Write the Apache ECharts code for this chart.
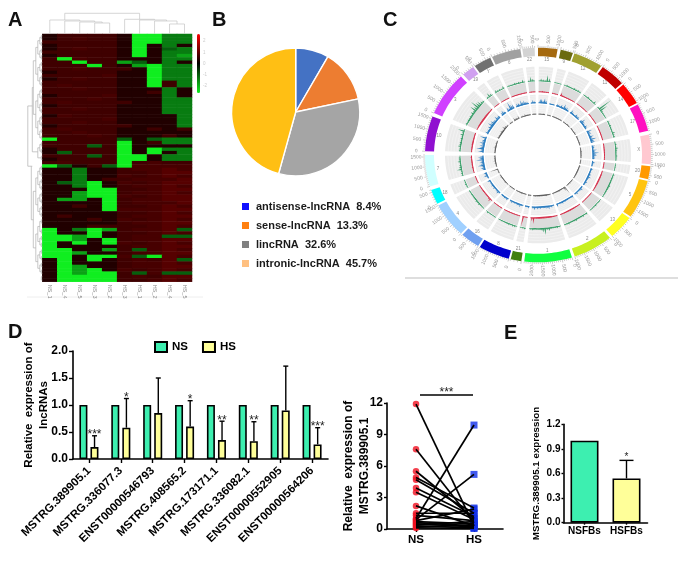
<!DOCTYPE html>
<html><head><meta charset="utf-8">
<style>html,body{margin:0;padding:0;background:#fff}#c{width:687px;height:565px}</style>
<script src="https://cdn.jsdelivr.net/npm/echarts@6/dist/echarts.min.js"></script>
</head><body><div id="c"></div>
<script>
// ---------- Panel A ----------
const heatColumns = ['NS_1','NS_4','NS_5','NS_3','NS_2','HS_3','HS_1','HS_2','HS_4','HS_5'];
const heatRows = [
"abbbbaGGDD","abcbbaGGDD","bbbbbaGGDD","abbbbaGaDa","abcbbaGatD","bbbbbaGaDD","abbbbaGaDM","bGcbbaaaDD",
"bbGbbMtaDa","bbbGbaMGDD","bbcbbbaGDD","abbbbaaGDD","bbbbcaaGDD","abcbbaaGDD","bbbbbaaGbD","bcbbbaaGbD",
"bbcbbaaaDa","bbbbbaabDa","abbbcaaaDa","bbbcbaaaDD","bcbbbbaaDD","abbbbaaaDD","bbcbbaaaDD","bbbbbaaaDD",
"acbbbaaaaD","bbbbcaaaaD","bbcbbaaaaD","abbbbbaaaD","bcbbbaabab","bbcbbaaaaa","bbbcbaaaba","GbbbbtatDD",
"bbbbbGabDD","bbbtbGaaaa","abbbbGaGDD","atbbbGaGaD","bbbtbGGaDD","abbbbGGaDD","bcbbbGbcbb","GtabtGcccc",
"aaDaabccdc","aaDaabbcdd","aaDaacbcdc","aaDabbcccd","atDGacbcdd","aaDGabccdc","aaaGGbbcdd","aaMGGbccdc",
"aaMGGcbcdd","aMMaGbccdd","aaaaGbcccd","aabaGbbcdc","aaaaGcccdd","aaaaabbcdc","abaaabccdd","aaabacbcdc",
"aaaaabccdd","aaabbbbcdc","GaDGMbccdt","GaaGabbcdc","GGMGabcctt","GGMaGbccdd","GaGaGcbcdc","Gaaaabccdd",
"GGaaMbtcdc","GGMaabccdd","GGaGGctGdc","aGaGabcbdt","aGaaabccdc","aGMaabccdd","aGMGacbcdc","aGMGGbtctt",
"aGGGGbcbdd","aGGGGbbcdc"];
const heatLevels = {a:0.32,b:0.62,c:0.7,d:0.84,G:-2.5,M:-1.7,D:-1.3,t:-1};
const colorbarTicks = ['2','1','0','-1','-2'];
const topBrackets = [[1.5,6.5,20.7,14,14.7],[0.5,2.5,14,0,13],[1.5,3.5,13,0,12],[2.5,4,12,0,11],[3.5,4.5,11,0,0],
  [5.5,7.5,14.7,0,14],[6.5,8.3,14,0,13],[7.5,9,13,0,10],[8.5,9.5,10,0,0]];
const rowBrackets = [
 [1,0,1,0,0],[1,2,3,0,0],[1,4,5,0,0],[1,6,7,0,0],[1,8,9,0,0],[1,10,11,0,0],[1,12,13,0,0],[1,14,15,0,0],[1,16,17,0,0],[1,18,19,0,0],
 [1,20,21,0,0],[1,22,23,0,0],[1,24,25,0,0],[1,26,27,0,0],[1,28,29,0,0],[1,30,31,0,0],[1,32,33,0,0],[1,34,35,0,0],[1,36,37,0,0],
 [1,39,40,0,0],[1,41,42,0,0],[1,43,44,0,0],[1,45,46,0,0],[1,47,48,0,0],[1,49,50,0,0],[1,51,52,0,0],[1,53,54,0,0],[1,55,56,0,0],
 [1,58,59,0,0],[1,60,61,0,0],[1,62,63,0,0],[1,64,65,0,0],[1,66,67,0,0],[1,68,69,0,0],[1,70,71,0,0],[1,72,73,0,0],
 [2.5,.5,2.5,1,1],[2.5,4.5,6.5,1,1],[2.5,8.5,10.5,1,1],[2.5,12.5,14.5,1,1],[2.5,16.5,18.5,1,1],[2.5,20.5,22.5,1,1],[2.5,24.5,26.5,1,1],[2.5,28.5,30.5,1,1],[2.5,32.5,34.5,1,1],
 [2.5,39.5,41.5,1,1],[2.5,43.5,45.5,1,1],[2.5,47.5,49.5,1,1],[2.5,51.5,53.5,1,1],[2.5,55.5,58.5,1,1],[2.5,60.5,62.5,1,1],[2.5,64.5,66.5,1,1],[2.5,68.5,70.5,1,1],
 [4.5,1.5,5.5,2.5,2.5],[4.5,9.5,13.5,2.5,2.5],[4.5,17.5,21.5,2.5,2.5],[4.5,25.5,29.5,2.5,2.5],[4.5,33.5,36.5,2.5,1],
 [4.5,40.5,44.5,2.5,2.5],[4.5,48.5,52.5,2.5,2.5],[4.5,57,61.5,2.5,2.5],[4.5,65.5,69.5,2.5,2.5],
 [6.5,3.5,11.5,4.5,4.5],[6.5,19.5,27.5,4.5,4.5],[6.5,42.5,50.5,4.5,4.5],[6.5,59.25,67.5,4.5,4.5],
 [9,7.5,23.5,6.5,6.5],[9,46.5,63.4,6.5,6.5],[10,15.5,34.7,9,4.5],[11,39,55,10,9],[14.5,21,39,10,11]];

// ---------- Panel B ----------
const pieNames = ['antisense-lncRNA  8.4%','sense-lncRNA  13.3%','lincRNA  32.6%','intronic-lncRNA  45.7%'];
const pieShares = [8.4,13.3,32.6,45.7];
const pieColors = ['#4472C4','#ED7D31','#A5A5A5','#FFBF14'];
const pieKeyColors = ['#1010FF','#FF8010','#808080','#FFC080'];

// ---------- Panel C ----------
const chromNames  = ['22','15','9','12','11','14','17','X','20','5','13','2','1','21','8','16','4','18','7','10','3','19','Y','6'];
const chromStart  = [352,0,11.6,18.8,35,49,62,79,96,104,126,140.5,162.5,188.5,195,212,223,243,253,272,293,318.5,326,336];
const chromEnd    = [358.3,10,18,34,48,61,77,95,103,125,139,161,187,194,211,222,242,251,270,291,317,325,335,351];
const chromLength = [600,1000,500,1300,1300,1100,1400,1500,700,1900,1000,2000,2400,300,1500,800,1500,600,1600,1600,2000,500,700,1000];
const chromColors = ['#D3D3D3','#A56A10','#6B6B10','#A0A030','#C00000','#FF0000','#FF10C0','#FFC8D0','#FF9900','#FFC410','#FFFF20','#C8F020',
  '#10FF40','#408010','#0000CC','#70A0F0','#A0D0FF','#00FFFF','#D0FFFF','#9010D0','#D040FF','#D0A0F0','#707070','#A0A0A0'];
const greenTrack = [5,3,6,4,1,0,1,3,2,3, 3,2,2,3,2,4,3,9,3,2, 2,3,3,2,4,3,2,3,4,2, 3,2,3,2,2,3,2,2,3,2, 2,2,3,2,3,2,2,3,3,2, 3,2,3,2,3,3,2,4,6,3,
  2,3,2,3,2,4,3,3,2,2, 3,2,2,3,2,2,3,3,2,2, 2,3,3,2,4,3,5,3,4,3, 5,3,4,3,3,4,6,4,3,3, 3,4,6,7,5,3,4,5,4,4, 3,4,3,2,3,3,4,3,5,6];
const redTrack = [2,3,1,0,1,1,7,3,1,1, 1,1,2,1,2,1,1,2,1,1, 2,1,1,2,1,2,2,1,1,2, 1,2,1,2,1,1,2,1,1,1, 1,1,2,1,1,1,2,1,1,1, 1,1,1,2,1,1,2,1,1,1,
  1,7,1,1,9,1,1,1,2,1, 1,2,1,1,1,5,1,1,2,1, 2,1,1,2,1,2,3,2,2,3, 3,2,2,3,2,1,2,2,1,2, 2,1,2,1,2,3,2,2,1,2, 2,1,2,2,1,1,2,1,2,3];
const blueTrack = [8,5,6,2,1,1,5,3,4,6, 4,3,5,2,4,3,5,6,3,4, 5,6,4,5,7,5,6,3,5,7, 5,3,6,2,4,3,2,3,4,2, 3,2,3,4,2,3,2,3,1,2, 2,3,2,4,2,3,4,3,2,3,
  3,4,2,3,2,3,4,3,2,3, 4,3,3,2,3,4,2,3,3,2, 4,3,5,4,6,5,7,5,8,6, 9,6,8,5,6,4,7,5,4,3, 4,6,5,3,5,4,6,5,7,5, 9,5,7,4,6,5,3,2,4,9];
const blackTrack = [3,2,3,1,1,2,3,2,2,2, 2,3,2,2,3,2,4,3,2,3, 2,3,2,2,3,2,3,2,3,2, 2,2,3,2,2,3,2,2,2,2, 2,2,3,2,3,2,2,8,2,2, 3,2,2,3,2,2,3,2,2,2,
  2,3,2,2,3,2,2,3,2,2, 3,2,2,3,2,2,3,2,2,3, 2,3,2,8,3,2,3,4,3,3, 4,3,3,4,2,3,2,3,4,3, 3,4,3,5,4,3,4,3,4,5, 4,5,4,3,4,3,2,3,3,5];

// ---------- Panel D ----------
const lncNames = ['MSTRG.389905.1','MSTRG.336077.3','ENST00000546793','MSTRG.408565.2','MSTRG.173171.1','MSTRG.336082.1','ENST00000552905','ENST00000564206'];
const nsValues = [1,1,1,1,1,1,1,1];
const hsValues = [0.22,0.58,0.85,0.6,0.35,0.33,0.9,0.27];
const hsUpper  = [0.43,1.12,1.5,1.08,0.7,0.69,1.72,0.58];
const hsStars  = ['***','*','','*','**','**','','***'];

// ---------- Paired panel ----------
const pairCats = ['NS','HS'];
const pairNS = [11.9,7.6,5.5,4.9,4.7,3.9,3.5,2.2,1.5,1.0,0.9,1.3,0.8,0.7,0.6,0.5,0.4,0.3,0.2,0.1];
const pairHS = [0.3,0.6,1.0,2.0,1.5,1.2,0.9,0.3,1.5,9.9,5.2,0.8,1.9,0.5,0.3,0.2,0.7,0.1,0.4,0.05];

// ---------- Panel E ----------
const fbCats = ['NSFBs','HSFBs'];
const fbValues = [1,0.54];
const fbUpper = [null,0.76];

const FONT = 'Liberation Sans';
const BLK = '#000';
const chart = echarts.init(document.getElementById('c'), null, {renderer:'canvas'});

function bracketSeries(list, xIdx, yIdx, isTop, color){
  return {type:'custom',xAxisIndex:xIdx,yAxisIndex:yIdx,silent:true,data:list,
    encode:{x:0,y:1},
    renderItem(p,api){
      const s={stroke:color,lineWidth:.7,fill:null};
      const P=(a,b)=>api.coord(isTop?[a,b]:[a,b+.5]);
      let pts;
      if(isTop){const[xa,xb,h,ha,hb]=list[p.dataIndex];pts=[P(xa,ha),P(xa,h),P(xb,h),P(xb,hb)];}
      else{const[d,ra,rb,da,db]=list[p.dataIndex];pts=[P(da,ra),P(d,ra),P(d,rb),P(db,rb)];}
      return {type:'polyline',shape:{points:pts},style:s};
    }};
}

// circos helpers
const rad=d=>d*Math.PI/180;
function ptr(api,r,d){return api.coord([r*Math.sin(rad(d)),r*Math.cos(rad(d))]);}
function arc(api,r,a,b){const o=[];const n=Math.max(2,Math.ceil(Math.abs(b-a)/1.5));for(let i=0;i<=n;i++)o.push(ptr(api,r,a+(b-a)*i/n));return o;}
function trackSeries(values,r0,height,color,bg,stripe,power,halfWidth,baseWidth){
  return {type:'custom',xAxisIndex:3,yAxisIndex:3,silent:true,data:chromNames.map((n,i)=>[i,0]),encode:{x:0,y:1},
    renderItem(p,api){
      const i=p.dataIndex,s=chromStart[i]+.5,e=chromEnd[i]-.5,ch=[];
      ch.push({type:'polygon',shape:{points:arc(api,r0,s,e).concat(arc(api,r0+height,e,s))},style:{fill:bg}});
      if(stripe)for(let k=1;k<5;k++)ch.push({type:'polyline',shape:{points:arc(api,r0+height*k/5,s,e)},style:{stroke:stripe,lineWidth:.6,fill:null}});
      const top=[ptr(api,r0,s)];
      values.forEach((v,b)=>{
        [0.75,2.25].forEach((off,j)=>{
          const c=b*3+off;
          if(c>s+.5&&c<e-.5){
            const h=Math.pow(v/9,power)*height*(j?0.55:1);
            top.push(ptr(api,r0,c-halfWidth),ptr(api,r0+h,c),ptr(api,r0,c+halfWidth));
          }
        });
      });
      top.push(ptr(api,r0,e));
      ch.push({type:'polygon',shape:{points:top},style:{fill:color}});
      ch.push({type:'polyline',shape:{points:arc(api,r0,s,e)},style:{stroke:color,lineWidth:baseWidth,fill:null}});
      return {type:'group',children:ch};
    }};
}
const ringSeries = {type:'custom',xAxisIndex:3,yAxisIndex:3,silent:true,data:chromNames.map((n,i)=>[i,0]),encode:{x:0,y:1},
  renderItem(p,api){
    const i=p.dataIndex,s=chromStart[i],e=chromEnd[i],L=chromLength[i],Ri=104,Ro=113,ch=[];
    ch.push({type:'polygon',shape:{points:arc(api,Ri,s,e).concat(arc(api,Ro,e,s))},style:{fill:chromColors[i]}});
    for(let t=0;t<=L;t+=100){
      const d=s+(e-s)*t/L,maj=t%500===0;
      const a=ptr(api,Ro,d),b=ptr(api,Ro+(maj?3:1.8),d);
      ch.push({type:'line',shape:{x1:a[0],y1:a[1],x2:b[0],y2:b[1]},style:{stroke:'#999',lineWidth:.5}});
      if(maj){
        const q=ptr(api,Ro+9,d);
        const rot=d<180?rad(90-d):rad(270-d);
        ch.push({type:'text',x:q[0],y:q[1],rotation:rot,style:{text:String(t),fontSize:5,fontFamily:FONT,fill:'#999',align:'center',verticalAlign:'middle'}});
      }
    }
    const m=(s+e)/2,q=ptr(api,Ri-3,m);
    ch.push({type:'text',x:q[0],y:q[1],style:{text:chromNames[i],fontSize:4.5,fontFamily:FONT,fill:'#888',align:'center',verticalAlign:'middle'}});
    return {type:'group',children:ch};
  }};

function axisCommon(fontSize,margin,tick){
  return {axisLine:{show:true,onZero:false,lineStyle:{color:BLK,width:1.6}},
    axisTick:{show:true,length:tick,lineStyle:{color:BLK,width:1.4}},
    axisLabel:{color:BLK,fontWeight:'bold',fontFamily:FONT,fontSize,margin},
    splitLine:{show:false}};
}
function yTitle(name,gap,size){
  return {name,nameLocation:'middle',nameRotate:90,nameGap:gap,nameMoveOverlap:false,
    nameTextStyle:{color:BLK,fontWeight:'bold',fontFamily:FONT,fontSize:size,lineHeight:size+4}};
}
const hidden={show:false};

const heatData=[];
heatRows.forEach((row,r)=>{[...row].forEach((ch,c)=>heatData.push([c,r,heatLevels[ch]]));});

const series=[
 {type:'heatmap',xAxisIndex:0,yAxisIndex:0,data:heatData,silent:true,progressive:0},
 bracketSeries(topBrackets,1,1,true,'#C4C4C4'),
 bracketSeries(rowBrackets,2,2,false,'#B0B0B0'),
 {type:'pie',center:[295.7,112],radius:64,startAngle:90,silent:true,label:{show:false},labelLine:{show:false},
  itemStyle:{borderColor:'#fff',borderWidth:1.4},
  data:pieNames.map((n,i)=>({name:n,value:pieShares[i],itemStyle:{color:pieColors[i]}}))},
 trackSeries(greenTrack,78,15,'#3A9E6A','#EBEBEB','#F6F6F6',2,.6,.8),
 trackSeries(redTrack,66.5,10.5,'#D62F4B','#DCDCDC',null,2,.6,1),
 trackSeries(blueTrack,55,8.5,'#2F7FC1','#EBEBEB','#F6F6F6',1.2,.85,1.1),
 trackSeries(blackTrack,43,10,'#555','#EFEFEF','#F8F8F8',1.8,.6,.8),
 ringSeries,
 {name:'NS',type:'bar',xAxisIndex:4,yAxisIndex:4,data:nsValues,barWidth:8,barGap:'38%',silent:true,
  itemStyle:{color:'#3DEFB0',borderColor:BLK,borderWidth:1.6}},
 {name:'HS',type:'bar',xAxisIndex:4,yAxisIndex:4,data:hsValues,barWidth:8,silent:true,
  itemStyle:{color:'#FFFF99',borderColor:BLK,borderWidth:1.6}},
 {type:'custom',xAxisIndex:4,yAxisIndex:4,silent:true,z:5,data:hsValues.map((v,i)=>[i,v,hsUpper[i]]),encode:{x:0,y:2},
  renderItem(p,api){
    const i=p.dataIndex,a=api.coord([i,api.value(1)]),b=api.coord([i,api.value(2)]),x=a[0]+5.6,st={stroke:BLK,lineWidth:1.4};
    const ch=[{type:'line',shape:{x1:x,y1:a[1],x2:x,y2:b[1]},style:st},{type:'line',shape:{x1:x-2.5,y1:b[1],x2:x+2.5,y2:b[1]},style:st}];
    if(hsStars[i])ch.push({type:'text',x,y:b[1]-1,style:{text:hsStars[i],fontFamily:FONT,fontSize:12,fill:'#222',align:'center',verticalAlign:'middle'}});
    return {type:'group',children:ch};
  }},
 {type:'scatter',xAxisIndex:5,yAxisIndex:5,symbol:'circle',symbolSize:6.5,silent:true,z:2,itemStyle:{color:'#F01020'},data:pairNS.map(v=>['NS',v])},
 {type:'scatter',xAxisIndex:5,yAxisIndex:5,symbol:'rect',symbolSize:7,silent:true,z:2,itemStyle:{color:'#1030E8'},data:pairHS.map(v=>['HS',v])},
 ...pairNS.map((v,i)=>({type:'line',xAxisIndex:5,yAxisIndex:5,silent:true,z:3,symbol:'none',lineStyle:{color:BLK,width:1.7},data:[['NS',v],['HS',pairHS[i]]]})),
 {type:'bar',xAxisIndex:6,yAxisIndex:6,barWidth:28,silent:true,data:[
   {value:fbValues[0],itemStyle:{color:'#3DEFB0',borderColor:BLK,borderWidth:1.6}},
   {value:fbValues[1],itemStyle:{color:'#FFFF99',borderColor:BLK,borderWidth:1.6}}]},
 {type:'custom',xAxisIndex:6,yAxisIndex:6,silent:true,z:5,data:[[1,fbValues[1],fbUpper[1]]],encode:{x:0,y:2},
  renderItem(p,api){
    const a=api.coord([api.value(0),api.value(1)]),b=api.coord([api.value(0),api.value(2)]),x=a[0],st={stroke:BLK,lineWidth:1.4};
    return {type:'group',children:[
      {type:'line',shape:{x1:x,y1:a[1],x2:x,y2:b[1]},style:st},
      {type:'line',shape:{x1:x-7,y1:b[1],x2:x+7,y2:b[1]},style:st},
      {type:'text',x,y:b[1]-3,style:{text:'*',fontFamily:FONT,fontSize:10,fill:'#222',align:'center',verticalAlign:'middle'}}]};
  }}
];

const graphics=[
 ...[['A',8,10],['B',212,10],['C',383,10],['D',8,322],['E',504,323]].map(([t,x,y])=>({type:'text',x,y,style:{text:t,fontFamily:FONT,fontWeight:'bold',fontSize:20,fill:'#111'}})),
 {type:'line',shape:{x1:405,y1:278,x2:678,y2:278},style:{stroke:'#BDBDBD',lineWidth:1}},
 {type:'line',shape:{x1:27,y1:297,x2:203,y2:297},style:{stroke:'#EEEEEE',lineWidth:1}},
 {type:'line',shape:{x1:420,y1:395,x2:473,y2:395},style:{stroke:BLK,lineWidth:1.4}},
 {type:'text',x:446.5,y:393,style:{text:'***',fontFamily:FONT,fontSize:12,fill:'#222',align:'center',verticalAlign:'middle'}},
 ...colorbarTicks.map((t,i)=>({type:'text',x:203,y:41+i*11.3,style:{text:t,fontFamily:FONT,fontSize:4.5,fill:'#CCC',verticalAlign:'middle'}}))
];

chart.setOption({
 animation:false,
 backgroundColor:'#fff',
 textStyle:{fontFamily:FONT},
 grid:[
  {left:42.3,top:34,width:149.7,height:247.7},
  {left:42.3,top:5,width:149.7,height:29},
  {left:27,top:34,width:15.3,height:247.7},
  {left:418,top:41,width:240,height:228},
  {left:73,top:351,width:255,height:108},
  {left:387,top:403,width:116,height:126},
  {left:563.5,top:424.3,width:84,height:98.4}
 ],
 xAxis:[
  {gridIndex:0,type:'category',data:heatColumns,axisLine:hidden,axisTick:hidden,splitLine:hidden,
   axisLabel:{rotate:-90,fontSize:5.5,color:'#888',margin:3,interval:0,fontFamily:FONT}},
  {gridIndex:1,type:'value',min:0,max:10,show:false},
  {gridIndex:2,type:'value',min:0,max:15.3,inverse:true,show:false},
  {gridIndex:3,type:'value',min:-120,max:120,show:false},
  Object.assign({gridIndex:4,type:'category',data:lncNames},axisCommon(11.5,10,4),{
    axisTick:{show:true,alignWithLabel:true,length:4,lineStyle:{color:BLK,width:1.4}},
    axisLabel:{color:BLK,fontWeight:'bold',fontFamily:FONT,fontSize:11.5,rotate:45,interval:0,margin:10}}),
  Object.assign({gridIndex:5,type:'category',data:pairCats},axisCommon(11.5,5,3),{
    axisTick:{show:true,alignWithLabel:true,length:3,lineStyle:{color:BLK,width:1.4}},
    axisLabel:{color:BLK,fontWeight:'bold',fontFamily:FONT,fontSize:11.5,margin:5,interval:0}}),
  Object.assign({gridIndex:6,type:'category',data:fbCats},axisCommon(10,4,2),{
    axisTick:{show:true,alignWithLabel:true,length:2,lineStyle:{color:BLK,width:1.4}},
    axisLabel:{color:BLK,fontWeight:'bold',fontFamily:FONT,fontSize:10,margin:4,interval:0}})
 ],
 yAxis:[
  {gridIndex:0,type:'category',inverse:true,data:heatRows.map((r,i)=>i),axisLine:hidden,axisTick:hidden,axisLabel:hidden,splitLine:hidden},
  {gridIndex:1,type:'value',min:0,max:29,show:false},
  {gridIndex:2,type:'value',min:0,max:74,inverse:true,show:false},
  {gridIndex:3,type:'value',min:-120,max:120,show:false},
  Object.assign({gridIndex:4,type:'value',min:0,max:2,interval:0.5},axisCommon(12,5,4),yTitle('Relative  expression of\nlncRNAs',21,11.5),{
    axisLabel:{color:BLK,fontWeight:'bold',fontFamily:FONT,fontSize:12,margin:5,formatter:v=>v.toFixed(1)}}),
  Object.assign({gridIndex:5,type:'value',min:0,max:12,interval:3},axisCommon(12,4,3),yTitle('Relative  expression of\nMSTRG.389905.1',14,12)),
  Object.assign({gridIndex:6,type:'value',min:0,max:1.2,interval:0.3},axisCommon(10,3,2),yTitle('MSTRG.389905.1 expression',20,9.8),{
    axisLabel:{color:BLK,fontWeight:'bold',fontFamily:FONT,fontSize:10,margin:3,formatter:v=>v.toFixed(1)}})
 ],
 visualMap:[{type:'continuous',seriesIndex:0,min:-2.5,max:2.5,left:197,top:34,padding:0,align:'left',itemWidth:3,itemHeight:59,calculable:false,showLabel:false,
   inRange:{color:['#10EE20','#000000','#FF0000']},hoverLink:false}],
 legend:[
  {orient:'vertical',left:240,top:201,padding:0,itemWidth:9,itemHeight:9,itemGap:8,selectedMode:false,icon:'rect',
   textStyle:{fontFamily:FONT,fontWeight:'bold',fontSize:11,color:'#1a1a1a',padding:[0,0,0,1]},
   data:pieNames.map((n,i)=>({name:n,itemStyle:{color:pieKeyColors[i]}}))},
  {left:154,top:341,padding:0,itemWidth:12,itemHeight:10,itemGap:14,selectedMode:false,icon:'rect',
   textStyle:{fontFamily:FONT,fontWeight:'bold',fontSize:11.5,color:BLK,padding:[0,0,0,0]},
   data:['NS','HS']}
 ],
 graphic:graphics,
 series
});
</script></body></html>
